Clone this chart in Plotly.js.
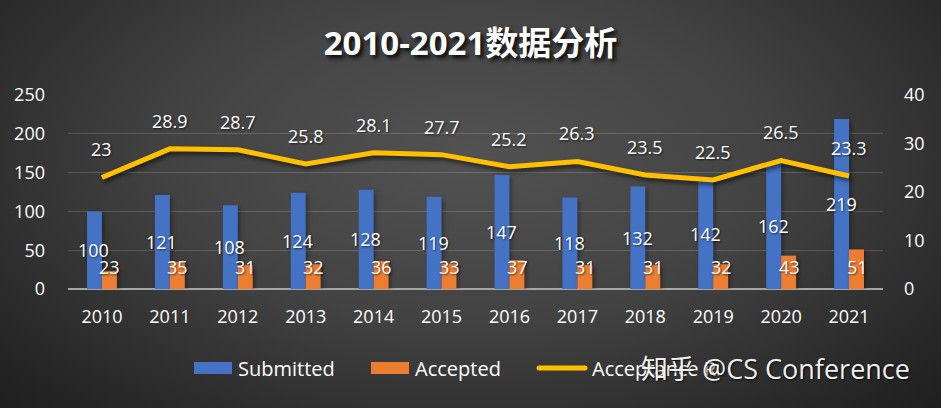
<!DOCTYPE html>
<html>
<head>
<meta charset="utf-8">
<script src="https://cdn.plot.ly/plotly-3.0.1.min.js"></script>
<style>
  html, body { margin: 0; padding: 0; }
  #chart {
    width: 941px; height: 408px;
    background: radial-gradient(ellipse 70% 90% at 50% 38%, #525252 0%, #434343 45%, #2b2b2b 80%, #1e1e1e 100%);
  }
  #chart .scatterlayer path.js-line { filter: drop-shadow(2px 3px 2px rgba(0,0,0,0.55)); }
  #chart .barlayer path { filter: drop-shadow(2px 2px 2px rgba(0,0,0,0.35)); }
</style>
</head>
<body>
<div id="chart"></div>
<script>
const years = ['2010','2011','2012','2013','2014','2015','2016','2017','2018','2019','2020','2021'];
const submitted = [100,121,108,124,128,119,147,118,132,142,162,219];
const accepted = [23,35,31,32,36,33,37,31,31,32,43,51];
const acceptanceRate = [23,28.9,28.7,25.8,28.1,27.7,25.2,26.3,23.5,22.5,26.5,23.3];
const seriesNames = ['Submitted','Accepted','Acceptance Rate'];
const titleText = '2010-2021数据分析';
const watermark = '知乎 @CS Conference';

const FONT = 'Open Sans, Noto Sans CJK SC, sans-serif';
const WHITE = '#ffffff';

const traces = [
  {type:'bar', name:seriesNames[0], x:years, y:submitted, marker:{color:'#4472C4'}, hoverinfo:'skip'},
  {type:'bar', name:seriesNames[1], x:years, y:accepted, marker:{color:'#ED7D31'}, hoverinfo:'skip'},
  {type:'scatter', mode:'lines', name:seriesNames[2], x:years, y:acceptanceRate, yaxis:'y2',
   line:{color:'#FFC000', width:5}, hoverinfo:'skip'}
];

const labelFont = {family:FONT, size:18, color:WHITE, shadow:'1px 1px 2px rgba(0,0,0,0.6)'};
const ann = [];
years.forEach((yr,i)=>{
  // category axis: annotation x is the category index
  ann.push({x:i, y:submitted[i]/2, xref:'x', yref:'y', text:String(submitted[i]), showarrow:false,
    xshift:-8, yanchor:'middle', font:labelFont});
  ann.push({x:i, y:Math.max(accepted[i]/2, 28), xref:'x', yref:'y', text:String(accepted[i]), showarrow:false,
    xshift:8, yanchor:'middle', font:labelFont});
  ann.push({x:i, y:acceptanceRate[i], xref:'x', yref:'y2', text:String(acceptanceRate[i]), showarrow:false,
    yshift:28, yanchor:'middle', font:labelFont});
});
ann.push({xref:'paper', yref:'paper', x:(775-68)/815, y:-(368-289)/194, xanchor:'center', yanchor:'middle',
  text:watermark, showarrow:false,
  font:{family:FONT, size:27, color:'rgba(255,255,255,0.95)', shadow:'1px 1px 2px rgba(0,0,0,0.8)'}});

const layout = {
  width:941, height:408,
  margin:{l:68, r:58, t:95, b:119},
  paper_bgcolor:'rgba(0,0,0,0)', plot_bgcolor:'rgba(0,0,0,0)',
  font:{family:FONT, size:18, color:WHITE},
  title:{text:titleText, x:0.5, xanchor:'center', y:1-43/408, yanchor:'middle',
    font:{family:FONT, size:33, weight:'bold', color:WHITE, shadow:'3px 3px 4px rgba(0,0,0,0.9)'}},
  barmode:'group', bargap:0.56, bargroupgap:0,
  showlegend:true,
  legend:{orientation:'h', xref:'container', yref:'container', x:188/941, y:40/408, xanchor:'left', yanchor:'middle',
    font:{family:FONT, size:20, color:WHITE}, entrywidth:122, itemwidth:40, bgcolor:'rgba(0,0,0,0)'},
  xaxis:{type:'category', showgrid:false, showline:false, zeroline:false, ticks:'',
    tickfont:{family:FONT, size:18, color:WHITE}, ticklabelstandoff:15, fixedrange:true},
  yaxis:{range:[0,250], dtick:50, showgrid:true, gridcolor:'rgba(255,255,255,0.16)', gridwidth:1,
    zeroline:true, zerolinecolor:'#a6a6a6', zerolinewidth:2, showline:false, ticks:'',
    tickfont:{family:FONT, size:18, color:WHITE}, ticklabelstandoff:22, fixedrange:true},
  yaxis2:{range:[0,40], dtick:10, overlaying:'y', side:'right', showgrid:false, zeroline:false, showline:false,
    ticks:'', tickfont:{family:FONT, size:18, color:WHITE}, ticklabelstandoff:20, fixedrange:true},
  annotations:ann
};

Plotly.newPlot('chart', traces, layout, {displayModeBar:false, staticPlot:true}).then(gd => {
  // widen the legend swatches like the original (wide rectangles / long line)
  gd.querySelectorAll('.legend .legendpoints path').forEach(p => {
    const d = p.getAttribute('d') || '';
    if (/^M6,6H-6V-6H6Z$/.test(d)) p.setAttribute('d', 'M-19,6H19V-6H-19Z');
  });
  gd.querySelectorAll('.legend .legendlines path').forEach(p => {
    p.setAttribute('d', 'M-3,0h46');
    p.style.strokeLinecap = 'round';
  });
});
</script>
</body>
</html>
